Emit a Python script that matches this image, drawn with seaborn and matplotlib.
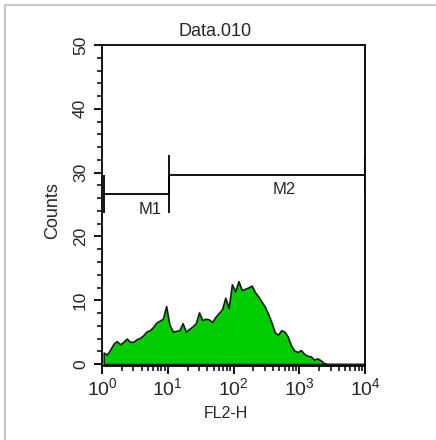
import numpy as np
import matplotlib
matplotlib.use("Agg")
import matplotlib.pyplot as plt
import seaborn as sns
from matplotlib.lines import Line2D
from matplotlib.ticker import MultipleLocator, LogLocator, NullFormatter

# histogram counts, 80 channels over 4 log decades (1/20 decade each)
counts = [1.8, 1.5, 2.3, 3.2, 3.6, 3.1, 3.5, 4.0, 3.5, 3.5,
          3.9, 4.1, 4.5, 5.1, 5.3, 5.8, 6.5, 6.8, 7.1, 9.1,
          6.2, 5.1, 5.2, 5.3, 6.4, 5.1, 5.5, 5.9, 6.4, 8.1,
          6.9, 7.1, 7.0, 6.6, 7.4, 8.0, 8.6, 10.4, 8.8, 12.5,
          11.4, 13.0, 11.6, 11.8, 12.0, 12.3, 11.3, 10.6, 9.8, 9.0,
          7.9, 6.6, 5.0, 4.6, 5.3, 5.1, 4.3, 2.9, 2.1, 1.9,
          2.2, 1.6, 1.3, 1.2, 0.7, 0.9, 0.6, 0.15, 0, 0,
          0, 0, 0, 0, 0, 0, 0, 0, 0, 0]
n_bins = len(counts)
channels = 10 ** ((np.arange(n_bins) + 0.5) * 4 / n_bins)

# marker gates
gate_names = ["M1", "M2"]
gate_lo = [1.08, 10.5]
gate_hi = [10.5, 10000]
gate_level = [26.6, 29.7]
gate_label_x = [5.4, 600]
gate_label_y = [24.2, 27.4]

sns.set_style("white")
plt.rcParams["font.family"] = ["Liberation Sans", "DejaVu Sans"]
plt.rcParams["mathtext.fontset"] = "custom"
plt.rcParams["mathtext.rm"] = "Liberation Sans"

fig = plt.figure(figsize=(4.36, 4.40), dpi=100)
fig.lines.append(Line2D([5 / 436, 5 / 436], [0, 1 - 5 / 440], transform=fig.transFigure,
                        color="#c8c8c8", linewidth=1.6))
fig.lines.append(Line2D([5 / 436, 1], [1 - 5 / 440, 1 - 5 / 440], transform=fig.transFigure,
                        color="#c8c8c8", linewidth=1.6))
ax = fig.add_axes([102 / 436, 1 - 366 / 440, 263 / 436, 321 / 440])

sns.histplot(x=channels, weights=counts, bins=n_bins, binrange=(0, 4), log_scale=True,
             element="poly", fill=True, color="#00cc00", alpha=1,
             edgecolor="#1a1a1a", linewidth=1.2, ax=ax)

for lo, hi, lev in zip(gate_lo, gate_hi, gate_level):
    ax.hlines(lev, lo, hi, color="black", linewidth=1.3)
    ax.vlines([lo, hi], lev - 3, lev + 3, color="black", linewidth=1.3)
for name, lx, ly in zip(gate_names, gate_label_x, gate_label_y):
    ax.text(lx, ly, name, ha="center", va="center", fontsize=12)

ax.set_xlim(1, 10000)
ax.set_ylim(-0.3, 50)
ax.xaxis.set_major_locator(LogLocator(base=10, numticks=10))
ax.xaxis.set_minor_locator(LogLocator(base=10, subs=np.arange(2, 10), numticks=10))
ax.xaxis.set_minor_formatter(NullFormatter())
ax.yaxis.set_major_locator(MultipleLocator(10))
ax.yaxis.set_minor_locator(MultipleLocator(2))
for s in ax.spines.values():
    s.set_color("black")
    s.set_linewidth(1.3)
ax.tick_params(axis="both", which="major", direction="out", length=6, width=1.3,
               color="black", left=True, bottom=True)
ax.tick_params(axis="both", which="minor", direction="out", length=3.5, width=1.1,
               color="black", left=True, bottom=True)
ax.tick_params(axis="x", labelsize=14, pad=2)
ax.tick_params(axis="y", labelrotation=90, labelsize=12.5, pad=4)
for lab in ax.get_yticklabels():
    lab.set_va("center")

ax.set_title("Data.010", fontsize=13, pad=6.5, x=0.43)
ax.set_xlabel("FL2-H", fontsize=11.5)
ax.xaxis.set_label_coords(0.47, (366 - 414) / 321)
ax.xaxis.label.set_va("center")
ax.set_ylabel("Counts", fontsize=13)
ax.yaxis.set_label_coords((53 - 102) / 263, (366 - 211) / 321)
ax.yaxis.label.set_va("center")

fig.savefig("out.png", dpi=100)
